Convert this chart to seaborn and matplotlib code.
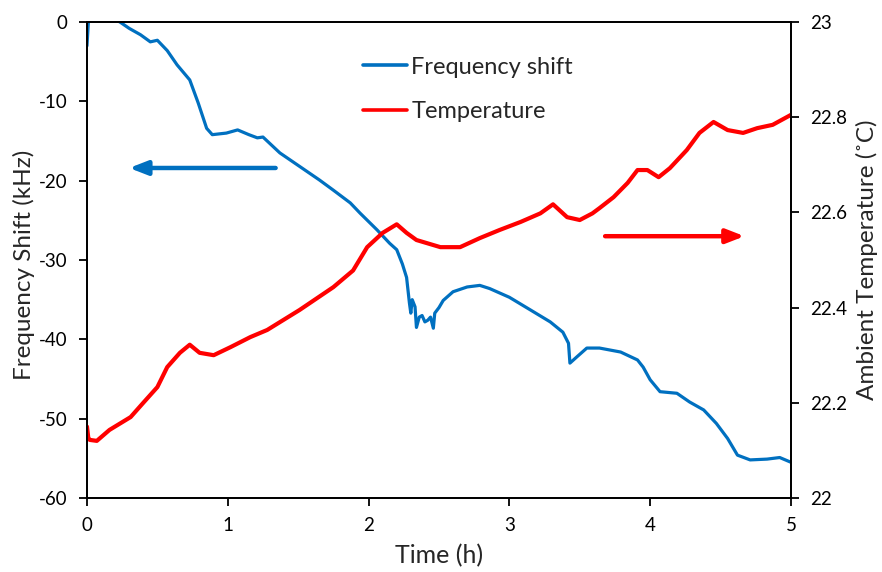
import matplotlib
matplotlib.use("Agg")
import matplotlib.pyplot as plt
import seaborn as sns
import pandas as pd

# ---- data ----
t_freq = [0.0, 0.01, 0.03, 0.10, 0.18, 0.234, 0.30, 0.38, 0.45, 0.50, 0.57, 0.64, 0.73,
          0.79, 0.85, 0.89, 0.99, 1.07, 1.15, 1.21, 1.25, 1.37, 1.51, 1.65, 1.75, 1.87,
          1.94, 2.06, 2.15, 2.20, 2.24, 2.27, 2.29, 2.30, 2.31, 2.33, 2.34, 2.36, 2.38,
          2.40, 2.42, 2.44, 2.46, 2.47, 2.50, 2.53, 2.60, 2.70, 2.79, 2.86, 3.00, 3.15,
          3.29, 3.38, 3.42, 3.43, 3.48, 3.55, 3.64, 3.79, 3.91, 3.95, 4.00, 4.07, 4.19,
          4.28, 4.38, 4.47, 4.55, 4.62, 4.71, 4.83, 4.92, 5.00]
freq = [-3.0, 0.0, 0.6, 1.0, 0.5, 0.0, -0.8, -1.6, -2.5, -2.3, -3.6, -5.4, -7.3,
        -10.2, -13.4, -14.2, -14.0, -13.6, -14.2, -14.6, -14.5, -16.5, -18.2, -19.9, -21.2, -22.8,
        -24.1, -26.2, -27.9, -28.7, -30.5, -32.2, -35.4, -36.7, -35.0, -35.9, -38.5, -37.2, -37.0,
        -37.8, -37.6, -37.2, -38.6, -36.7, -36.0, -35.1, -34.0, -33.4, -33.2, -33.6, -34.7, -36.3,
        -37.8, -39.1, -40.5, -43.0, -42.2, -41.1, -41.1, -41.6, -42.6, -43.5, -45.1, -46.6, -46.8,
        -47.9, -48.9, -50.6, -52.5, -54.6, -55.2, -55.1, -54.9, -55.5]

t_temp = [0.0, 0.01, 0.02, 0.07, 0.16, 0.31, 0.40, 0.50, 0.57, 0.66, 0.73, 0.80, 0.90,
          1.02, 1.16, 1.28, 1.51, 1.75, 1.89, 1.99, 2.10, 2.20, 2.27, 2.34, 2.51, 2.65,
          2.79, 2.93, 3.08, 3.22, 3.31, 3.41, 3.50, 3.59, 3.64, 3.74, 3.84, 3.91, 3.98,
          4.06, 4.14, 4.26, 4.35, 4.45, 4.55, 4.66, 4.76, 4.87, 5.00]
temp = [22.150, 22.125, 22.122, 22.120, 22.143, 22.170, 22.200, 22.233, 22.275, 22.305, 22.322, 22.305, 22.300,
        22.317, 22.338, 22.353, 22.395, 22.443, 22.478, 22.527, 22.557, 22.575, 22.557, 22.542, 22.527, 22.527,
        22.546, 22.563, 22.580, 22.598, 22.617, 22.590, 22.584, 22.598, 22.609, 22.632, 22.662, 22.689, 22.689,
        22.674, 22.693, 22.731, 22.767, 22.790, 22.773, 22.767, 22.777, 22.784, 22.805]

x_ticks = [0, 1, 2, 3, 4, 5]
y_ticks = [-60, -50, -40, -30, -20, -10, 0]
y2_ticks = [22, 22.2, 22.4, 22.6, 22.8, 23]
y2_labels = ["22", "22.2", "22.4", "22.6", "22.8", "23"]

labels = ["Frequency shift", "Temperature"]

BLUE = "#0070C0"
RED = "#FF0000"

sns.set_theme(style="ticks")
plt.rcParams["font.family"] = ["Lato", "DejaVu Sans"]
plt.rcParams["axes.unicode_minus"] = False

fig = plt.figure(figsize=(8.82, 5.72), dpi=100)
ax = fig.add_axes([0.0986, 0.1294, 0.7982, 0.8321])
ax2 = ax.twinx()

df_f = pd.DataFrame({"t": t_freq, "v": freq})
df_t = pd.DataFrame({"t": t_temp, "v": temp})

sns.lineplot(data=df_f, x="t", y="v", ax=ax, color=BLUE, lw=2.3, sort=False,
             estimator=None, label=labels[0], legend=False)
sns.lineplot(data=df_t, x="t", y="v", ax=ax2, color=RED, lw=3.0, sort=False,
             estimator=None, label=labels[1], legend=False)

ax.set_xlim(0, 5)
ax.set_ylim(-60, 0)
ax2.set_ylim(22, 23)
ax.set_xticks(x_ticks)
ax.set_yticks(y_ticks)
ax2.set_yticks(y2_ticks)
ax2.set_yticklabels(y2_labels)

for a in (ax, ax2):
    for s in a.spines.values():
        s.set_color("black")
        s.set_linewidth(1.3)
    a.tick_params(axis="both", direction="out", length=6, width=1.3,
                  labelsize=13.5, pad=8, colors="black")

ax.set_xlabel("Time (h)", fontsize=18, labelpad=7)
ax.set_ylabel("Frequency Shift (kHz)", fontsize=17.5, labelpad=6)
ax2.set_ylabel("Ambient Temperature (˚C)", fontsize=17.5, labelpad=6)
ax.yaxis.set_label_coords(-0.074, 0.49)

# arrows
ax.annotate("", xy=(0.30, -18.4), xytext=(1.34, -18.4),
            arrowprops=dict(arrowstyle="-|>,head_length=0.9,head_width=0.35",
                            color=BLUE, lw=3.2, shrinkA=0, shrinkB=0))
ax.annotate("", xy=(4.67, -27.0), xytext=(3.68, -27.0),
            arrowprops=dict(arrowstyle="-|>,head_length=0.9,head_width=0.35",
                            color=RED, lw=3.2, shrinkA=0, shrinkB=0))

h1, _ = ax.get_legend_handles_labels()
h2, _ = ax2.get_legend_handles_labels()
leg = ax.legend(h1 + h2, labels, loc="upper left", bbox_to_anchor=(0.362, 0.972),
                frameon=False, fontsize=17, handlelength=1.85, handletextpad=0.2,
                labelspacing=1.0)
for h in leg.legend_handles:
    h.set_linewidth(2.6)

fig.savefig("out.png", dpi=100)
